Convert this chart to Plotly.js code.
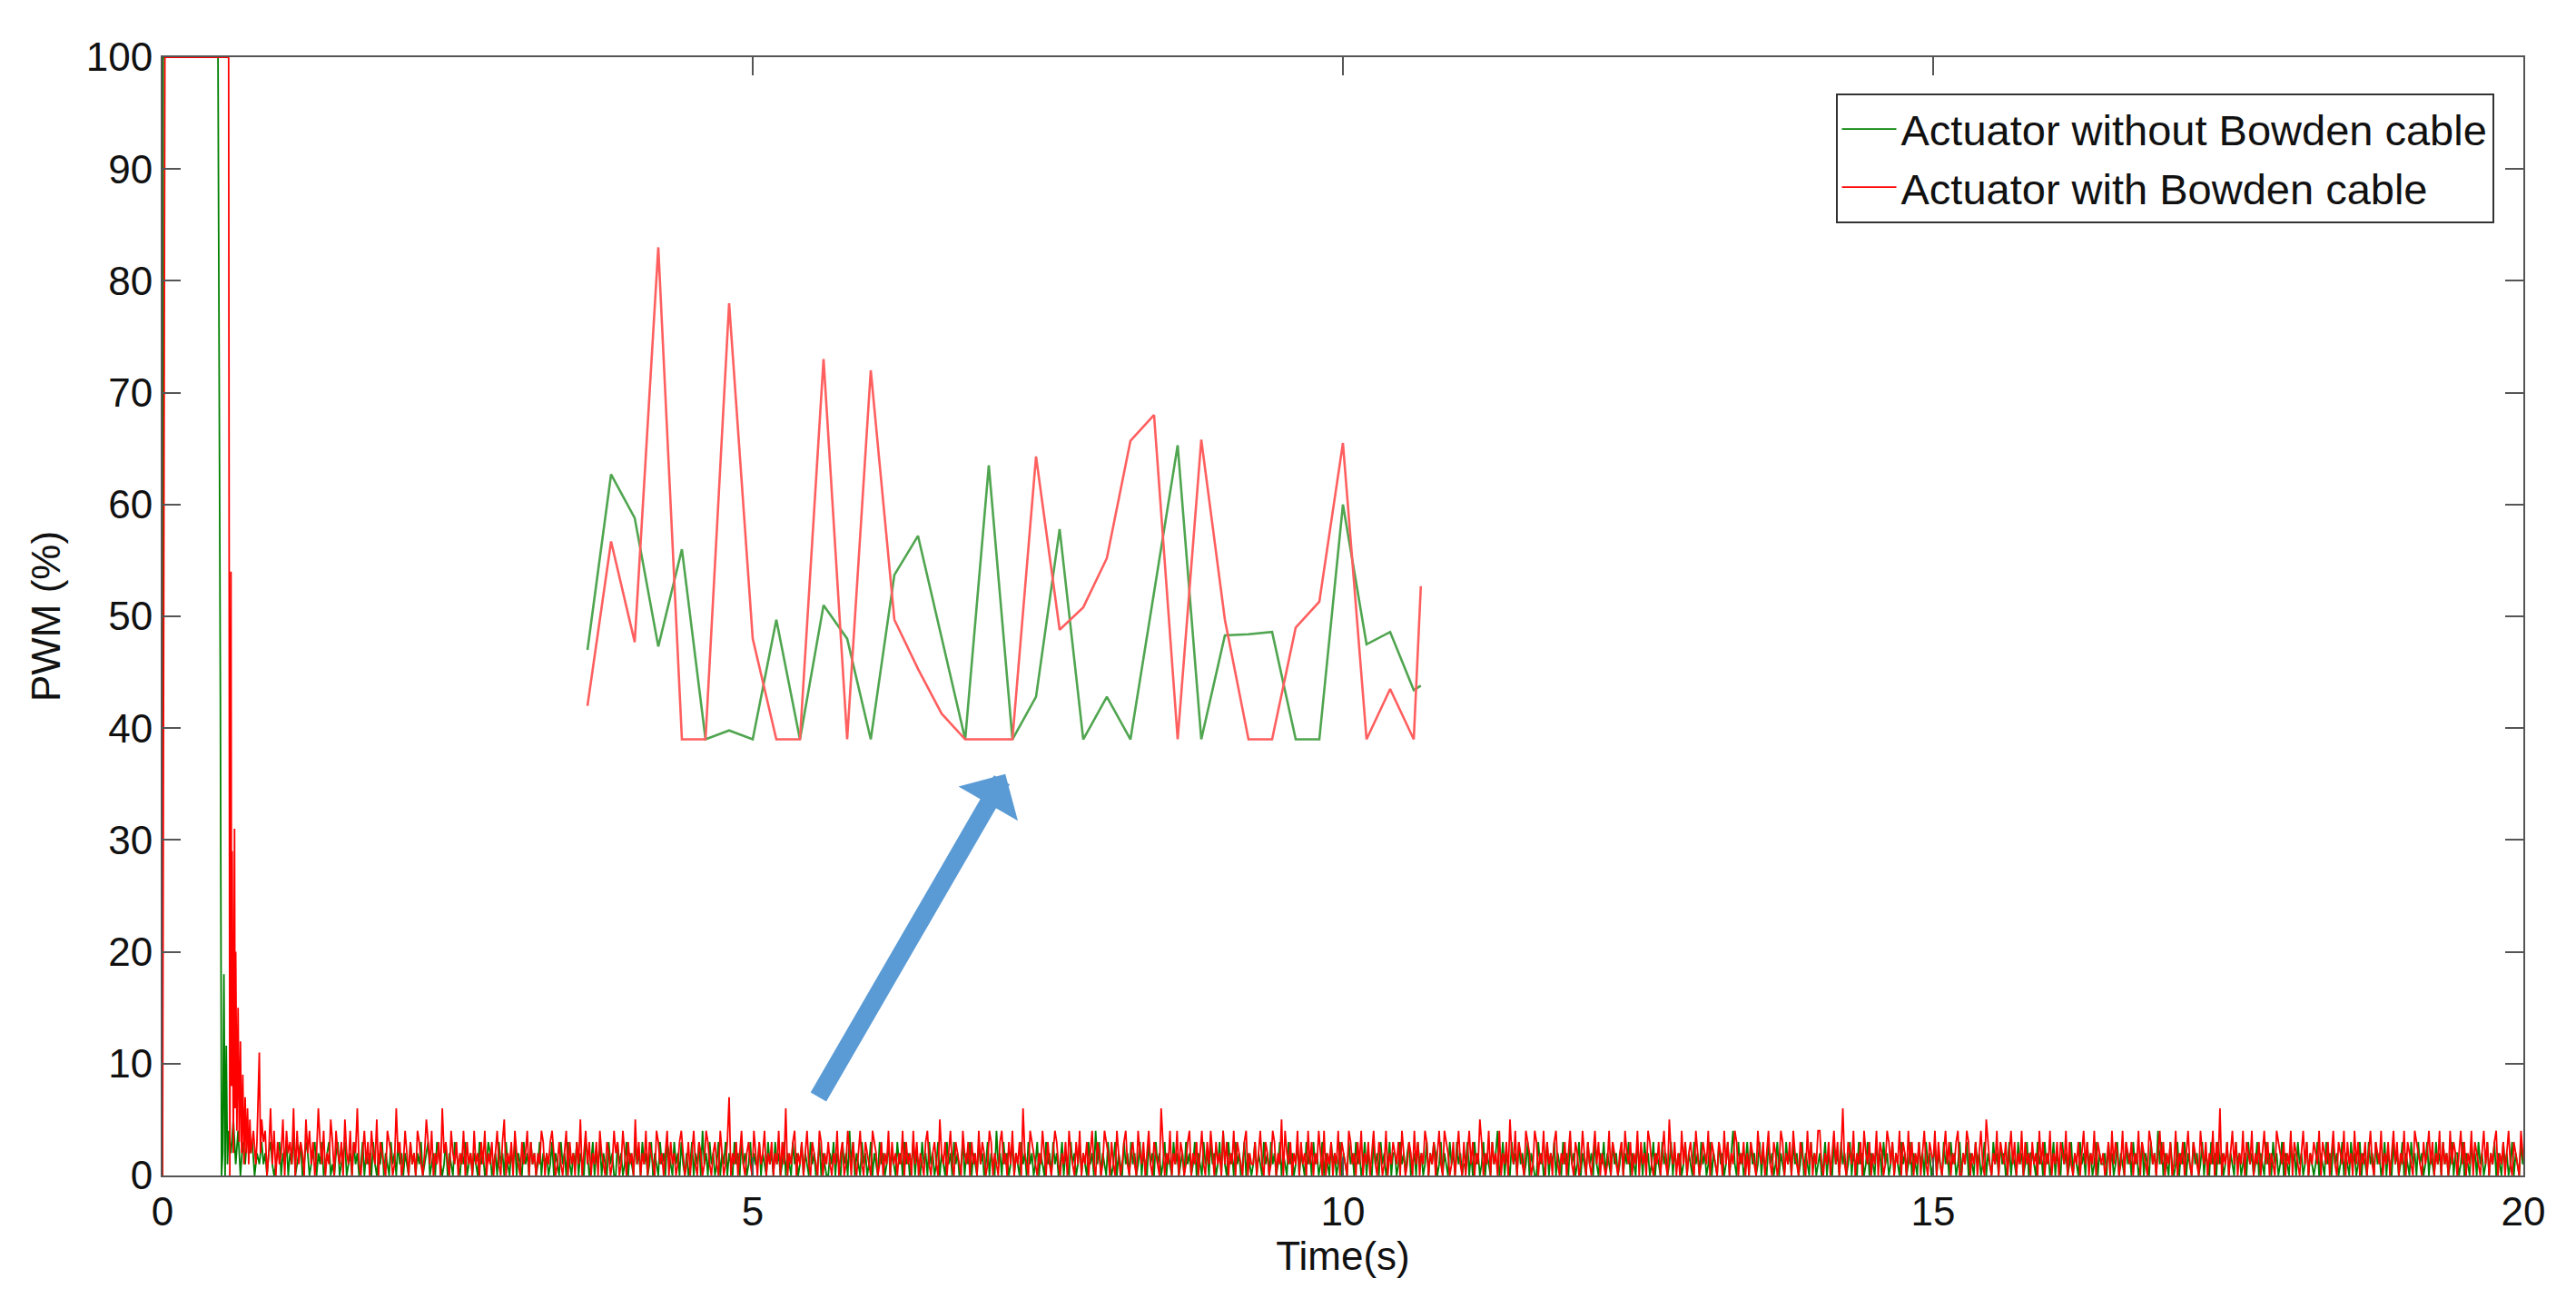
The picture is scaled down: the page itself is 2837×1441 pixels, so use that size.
<!DOCTYPE html>
<html>
<head>
<meta charset="utf-8">
<script src="https://cdn.plot.ly/plotly-3.0.1.min.js"></script>
<style>html,body{margin:0;padding:0;background:#fff;}#chart{width:2837px;height:1441px;}</style>
</head>
<body>
<div id="chart"></div>
<script>
// ---- start-up transient (time s, PWM %) ----
const greenStartTime = [0, 0.005, 0.47, 0.48, 0.49, 0.50, 0.51, 0.52, 0.53, 0.54, 0.55, 0.56, 0.58, 0.60, 0.62, 0.64, 0.66, 0.68, 0.70, 0.72, 0.74, 0.76, 0.78, 0.80, 0.82];
const greenStartPWM  = [0, 100, 100, 77, 43, 0, 2, 18, 0, 11.6, 1, 4, 2, 5, 1, 4, 0, 3, 1, 4, 2, 3, 0, 2, 1];
const redStartTime   = [0, 0.02, 0.56, 0.57, 0.58, 0.585, 0.59, 0.60, 0.61, 0.615, 0.62, 0.63, 0.64, 0.65, 0.66, 0.67, 0.68, 0.69, 0.70, 0.71, 0.72, 0.73, 0.74, 0.75, 0.77, 0.79, 0.80, 0.82, 0.83];
const redStartPWM    = [0, 100, 100, 0, 54, 8, 29, 2, 31, 6, 20, 4, 15, 3, 12, 2, 9, 1, 7, 2, 6, 1, 5, 2, 4, 1, 3, 11, 2];

// ---- steady-state noise, one digit = PWM % per sample ----
const noiseStart = 0.84;
const samplePeriod = 0.015;
const greenNoise =
  "3120231012302130214012301320123021301230" +
  "1023012301203120130212031021302103120312" +
  "0210312021301230120321013021032102130120" +
  "2103120132012031203102130210312031201302" +
  "1201302103120310213021032013021302103120" +
  "0312013021031203120130210312032103120310" +
  "2013021304120312013021302103120312013021" +
  "1302103120312013021031201302103120130210" +
  "0213021031204130210312013021031201302103" +
  "1203120130210312031201302103120312013021" +
  "3021031201302104120312013021031203120130" +
  "2103120312013021031201302103120413021031" +
  "0130210312031201302103120312013021031201" +
  "2031201302103120312013041031203120130210" +
  "1302103120312013021031201302103120312013" +
  "0210312013021031203120130210312031201302" +
  "2013120230120312013021320130210312031201" +
  "1302031201302103124013021031203120130210" +
  "0312013021302103120312013021031203102130" +
  "2103120130213021031203120130210312013021" +
  "1201302103120312013021031201302410312013" +
  "0312013021031201302103120312013021031201" +
  "2013021031203120130210312013021031203120" +
  "1302103120130210312031201302103120312013" +
  "0213021031201302103120312013021031201302" +
  "2103120312013021031201302103120312013021" +
  "1203120130210312031201302103120413021031" +
  "0130213021031201302103120312013021031201" +
  "2031201302103120312013021031203120130210" +
  "1302103120312013021031201302103120312013" +
  "0210312013021031203120130210312031201302" +
  "2013021031203120130213021031201302103120";
const redNoise =
  "5340261403125042316041320524130263140215" +
  "3042130521403261024130421503210432016230" +
  "1420312043102531402130623104213021403120" +
  "4120314021302410350213042103124031202143" +
  "0213420131024031203150241302130421032014" +
  "2301420312051302140321043120240312013420" +
  "1302410320143102310420137021302410231042" +
  "0312402130214031602134021302410321043021" +
  "3102140230142031024103210432013021403120" +
  "2140312041302103410231052130241032104213" +
  "0312041320143021034120314021306210432102" +
  "1420310243102130421031402130241032014320" +
  "3104201341023104213024103210630214021403" +
  "2013402130241031420312041302140321034021" +
  "1302410320143021504213021403120413021420" +
  "4021302140321043120314021302410320140213" +
  "2130420132041302143021302410432013024103" +
  "0241302153021403120402130521403210432014" +
  "3021403120341021302410320142031024130210" +
  "1403210230421302140312043102130241052130" +
  "2041302310420132140321032041302143021302" +
  "0321042130241032014302130421032104130214" +
  "4102130241302610321402130421302140320143" +
  "1302140320413021302410321403102413021340" +
  "0214302130241053102140321302413021403120" +
  "3120413021402130321403102130241302140321" +
  "2013041320140321302140321043120241302130" +
  "1402130241032104213021403160213024130214" +
  "0321402130241302104321302140321024130213" +
  "2140321302410321403120413021302410321402" +
  "1302413021403210432103124130214031204132" +
  "0241302140321024130213402130241032104213";

// ---- magnified inset (drawn in main-axis units) ----
const insetTime = [3.6,3.8,4.0,4.2,4.4,4.6,4.8,5.0,5.2,5.4,5.6,5.8,6.0,6.2,6.4,6.6,6.8,7.0,7.2,7.4,7.6,7.8,8.0,8.2,8.4,8.6,8.8,9.0,9.2,9.4,9.6,9.8,10.0,10.2,10.4,10.6,10.66];
const insetGreen = [47.0,62.7,58.8,47.3,56.0,39,39.8,39,49.7,39,51.0,48.0,39,53.7,57.2,48.1,39,63.5,39,42.8,57.8,39,42.8,39,52.0,65.3,39,48.3,48.4,48.6,39,39,60.0,47.5,48.6,43.4,43.8];
const insetRed   = [42.0,56.7,47.7,83.0,39,39,78.0,48.0,39,39,73.0,39,72.0,49.7,45.3,41.3,39,39,39,64.3,48.8,50.8,55.2,65.7,68.0,39,65.8,49.7,39,39,49.0,51.3,65.5,39,43.5,39,52.7];

const seriesNames = ["Actuator without Bowden cable", "Actuator with Bowden cable"];
const xTicks = [0, 5, 10, 15, 20];
const yTicks = [0, 10, 20, 30, 40, 50, 60, 70, 80, 90, 100];

function buildSeries(startT, startV, noise) {
  const t = startT.slice(), v = startV.slice();
  for (let i = 0; i < noise.length; i++) {
    t.push(noiseStart + i * samplePeriod);
    v.push(Number(noise[i]));
  }
  return {t, v};
}
const g = buildSeries(greenStartTime, greenStartPWM, greenNoise);
const r = buildSeries(redStartTime, redStartPWM, redNoise);

const FONT = '"Liberation Sans", Arial, sans-serif';
const traces = [
  {x: g.t, y: g.v, name: seriesNames[0], type: 'scatter', mode: 'lines',
   line: {color: 'rgb(0,128,0)', width: 1.8}},
  {x: r.t, y: r.v, name: seriesNames[1], type: 'scatter', mode: 'lines',
   line: {color: 'rgb(255,0,0)', width: 1.8}},
  {x: insetTime, y: insetGreen, type: 'scatter', mode: 'lines', showlegend: false,
   line: {color: 'rgb(80,165,80)', width: 2.6}, hoverinfo: 'skip'},
  {x: insetTime, y: insetRed, type: 'scatter', mode: 'lines', showlegend: false,
   line: {color: 'rgb(255,95,95)', width: 2.6}, hoverinfo: 'skip'}
];

const axisCommon = {
  showline: true, linecolor: '#555', linewidth: 2, mirror: 'ticks',
  ticks: 'inside', ticklen: 20, tickwidth: 2, tickcolor: '#555',
  showgrid: false, zeroline: false,
  tickfont: {family: FONT, size: 44, color: '#111'}
};

const layout = {
  width: 2837, height: 1441,
  margin: {l: 179, r: 58, t: 63, b: 146},
  paper_bgcolor: '#fff', plot_bgcolor: '#fff',
  font: {family: FONT, color: '#111'},
  showlegend: true,
  xaxis: Object.assign({}, axisCommon, {
    range: [0, 20], tickvals: xTicks, ticktext: xTicks.map(String),
    title: {text: 'Time(s)', font: {family: FONT, size: 44, color: '#111'}, standoff: 6}
  }),
  yaxis: Object.assign({}, axisCommon, {
    range: [0, 100], tickvals: yTicks, ticktext: yTicks.map(String),
    title: {text: 'PWM (%)', font: {family: FONT, size: 44, color: '#111'}, standoff: 14}
  }),
  legend: {
    x: 0.9875, xanchor: 'right', y: 0.9675, yanchor: 'top',
    bgcolor: '#fff', bordercolor: '#333', borderwidth: 2,
    font: {family: FONT, size: 47, color: '#111'},
    tracegroupgap: 0, itemwidth: 60
  },
  annotations: [{
    x: 7.14, y: 35.9, ax: 5.55, ay: 6.9, axref: 'x', ayref: 'y', xref: 'x', yref: 'y',
    text: '', showarrow: true, arrowhead: 1, arrowsize: 0.63, arrowwidth: 20,
    arrowcolor: '#5b9bd5', standoff: 0
  }]
};

Plotly.newPlot('chart', traces, layout, {staticPlot: true, displayModeBar: false});
</script>
</body>
</html>
